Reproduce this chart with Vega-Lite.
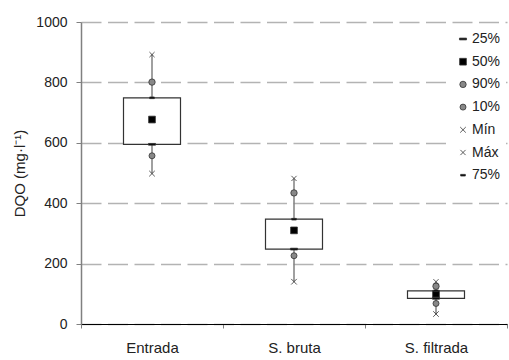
{
  "$schema": "https://vega.github.io/schema/vega-lite/v6.json",
  "width": 426,
  "height": 302,
  "autosize": {"type": "none"},
  "padding": {"left": 81, "top": 22, "right": 2, "bottom": 36},
  "background": "white",
  "config": {
    "font": "Liberation Sans",
    "view": {"stroke": null},
    "legend": {
      "orient": "none",
      "legendX": 370,
      "legendY": 5,
      "fillColor": "white",
      "padding": 5,
      "labelFontSize": 14,
      "labelColor": "#222",
      "rowPadding": 8.7,
      "labelOffset": 2,
      "symbolStrokeColor": "#333",
      "symbolStrokeWidth": 0.8,
      "title": null
    }
  },
  "data": {
    "values": [
      {"cat": "Entrada", "stat": "Mín", "value": 498},
      {"cat": "Entrada", "stat": "10%", "value": 557},
      {"cat": "Entrada", "stat": "25%", "value": 595},
      {"cat": "Entrada", "stat": "50%", "value": 677},
      {"cat": "Entrada", "stat": "75%", "value": 749},
      {"cat": "Entrada", "stat": "90%", "value": 801},
      {"cat": "Entrada", "stat": "Máx", "value": 892},
      {"cat": "S. bruta", "stat": "Mín", "value": 140},
      {"cat": "S. bruta", "stat": "10%", "value": 226},
      {"cat": "S. bruta", "stat": "25%", "value": 248},
      {"cat": "S. bruta", "stat": "50%", "value": 310},
      {"cat": "S. bruta", "stat": "75%", "value": 347},
      {"cat": "S. bruta", "stat": "90%", "value": 434},
      {"cat": "S. bruta", "stat": "Máx", "value": 482},
      {"cat": "S. filtrada", "stat": "Mín", "value": 33},
      {"cat": "S. filtrada", "stat": "10%", "value": 68},
      {"cat": "S. filtrada", "stat": "25%", "value": 85},
      {"cat": "S. filtrada", "stat": "50%", "value": 100},
      {"cat": "S. filtrada", "stat": "75%", "value": 110},
      {"cat": "S. filtrada", "stat": "90%", "value": 125},
      {"cat": "S. filtrada", "stat": "Máx", "value": 140}
    ]
  },
  "encoding": {
    "x": {
      "field": "cat",
      "type": "nominal",
      "sort": ["Entrada", "S. bruta", "S. filtrada"],
      "scale": {"paddingInner": 0, "paddingOuter": 0},
      "axis": {
        "title": null,
        "labelAngle": 0,
        "labelFontSize": 15,
        "labelColor": "#222",
        "labelPadding": 12,
        "tickBand": "extent",
        "tickColor": "#808080",
        "tickSize": 4,
        "domainColor": "#000",
        "domainWidth": 1,
        "grid": false
      }
    }
  },
  "layer": [
    {
      "transform": [{"pivot": "stat", "value": "value", "groupby": ["cat"]}],
      "mark": {"type": "rule", "color": "#808080", "strokeWidth": 1.5},
      "encoding": {
        "y": {
          "field": "Mín",
          "type": "quantitative",
          "title": "DQO (mg·l⁻¹)",
          "scale": {"domain": [0, 1000], "nice": false},
          "axis": {
            "values": [0, 100, 200, 300, 400, 500, 600, 700, 800, 900, 1000],
            "labelExpr": "datum.value % 200 == 0 ? datum.label : ''",
            "format": "d",
            "labelFontSize": 14,
            "labelColor": "#222",
            "labelPadding": 9,
            "tickSize": 5,
            "tickColor": "#808080",
            "domainColor": "#808080",
            "domainWidth": 1.5,
            "grid": true,
            "gridColor": "#b3b3b3",
            "gridWidth": 1.5,
            "gridDash": [20, 6.5],
            "titleFontSize": 15,
            "titleFontWeight": "normal",
            "titleColor": "#222",
            "titleX": -62,
            "titleY": 151,
            "titleAlign": "center",
            "titleBaseline": "middle",
            "titleAngle": 270
          }
        },
        "y2": {"field": "Máx"}
      }
    },
    {
      "transform": [{"pivot": "stat", "value": "value", "groupby": ["cat"]}],
      "mark": {"type": "bar", "fill": "white", "stroke": "#333", "strokeWidth": 1.2, "width": 57},
      "encoding": {
        "y": {"field": "25%", "type": "quantitative", "title": "DQO (mg·l⁻¹)"},
        "y2": {"field": "75%"}
      }
    },
    {
      "mark": {"type": "point", "filled": true, "stroke": "#333", "strokeWidth": 0.8, "opacity": 1},
      "encoding": {
        "y": {"field": "value", "type": "quantitative", "title": "DQO (mg·l⁻¹)"},
        "shape": {
          "field": "stat",
          "type": "ordinal",
          "scale": {
            "domain": ["25%", "50%", "90%", "10%", "Mín", "Máx", "75%"],
            "range": [
              "M-1,-0.25L1,-0.25L1,0.25L-1,0.25Z",
              "square",
              "circle",
              "circle",
              "M-1,-1L1,1M-1,1L1,-1",
              "M-1,-1L1,1M-1,1L1,-1",
              "M-1,-0.35L1,-0.35L1,0.35L-1,0.35Z"
            ]
          }
        },
        "color": {
          "field": "stat",
          "type": "ordinal",
          "scale": {
            "domain": ["25%", "50%", "90%", "10%", "Mín", "Máx", "75%"],
            "range": ["#000", "#000", "#888", "#888", "#000", "#000", "#000"]
          }
        },
        "size": {
          "field": "stat",
          "type": "ordinal",
          "scale": {
            "domain": ["25%", "50%", "90%", "10%", "Mín", "Máx", "75%"],
            "range": [50, 22, 38, 26, 14, 36, 64]
          }
        }
      }
    }
  ]
}
